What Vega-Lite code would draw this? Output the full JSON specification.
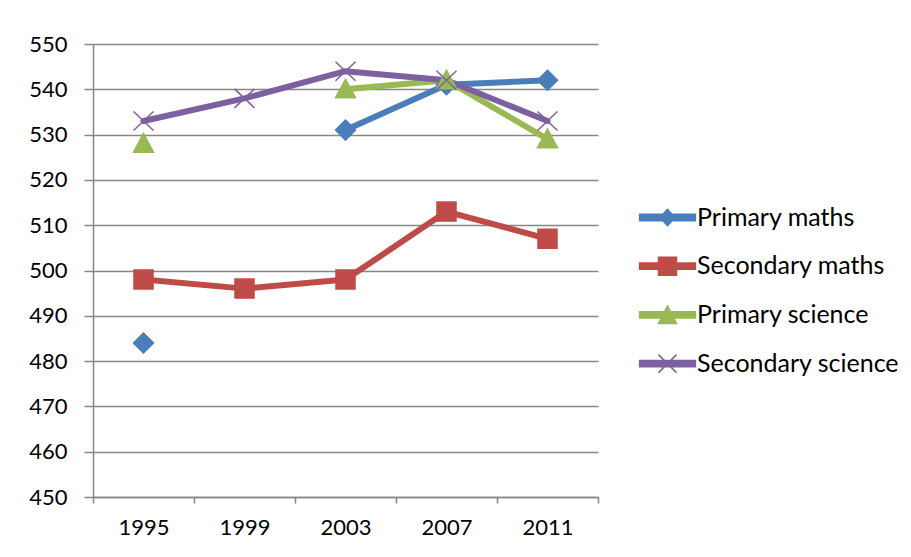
{
  "$schema": "https://vega.github.io/schema/vega-lite/v6.json",
  "width": 505,
  "height": 453,
  "padding": {"left": 93, "top": 44, "right": 313, "bottom": 60},
  "autosize": {"type": "none"},
  "background": "white",
  "config": {
    "view": {"stroke": null},
    "font": "Lato",
    "axis": {
      "labelFont": "Lato",
      "labelFontSize": 22,
      "labelColor": "#000000",
      "domainColor": "#868686",
      "domainWidth": 1.5,
      "tickColor": "#868686",
      "tickWidth": 1.5,
      "gridColor": "#868686",
      "gridWidth": 1.5,
      "title": null
    },
    "legend": {
      "labelFont": "Lato",
      "labelFontSize": 25,
      "labelColor": "#000000",
      "orient": "none",
      "legendX": 562,
      "legendY": 161,
      "padding": 0,
      "symbolSize": 324,
      "symbolStrokeWidth": 1.5,
      "symbolOpacity": 1,
      "labelOffset": 17,
      "rowPadding": 22.7,
      "labelLimit": 300
    }
  },
  "data": {
    "values": [
      {"series": "Primary maths", "year": "1995", "score": 484},
      {"series": "Primary maths", "year": "1999", "score": null},
      {"series": "Primary maths", "year": "2003", "score": 531},
      {"series": "Primary maths", "year": "2007", "score": 541},
      {"series": "Primary maths", "year": "2011", "score": 542},
      {"series": "Secondary maths", "year": "1995", "score": 498},
      {"series": "Secondary maths", "year": "1999", "score": 496},
      {"series": "Secondary maths", "year": "2003", "score": 498},
      {"series": "Secondary maths", "year": "2007", "score": 513},
      {"series": "Secondary maths", "year": "2011", "score": 507},
      {"series": "Primary science", "year": "1995", "score": 528},
      {"series": "Primary science", "year": "1999", "score": null},
      {"series": "Primary science", "year": "2003", "score": 540},
      {"series": "Primary science", "year": "2007", "score": 542},
      {"series": "Primary science", "year": "2011", "score": 529},
      {"series": "Secondary science", "year": "1995", "score": 533},
      {"series": "Secondary science", "year": "1999", "score": 538},
      {"series": "Secondary science", "year": "2003", "score": 544},
      {"series": "Secondary science", "year": "2007", "score": 542},
      {"series": "Secondary science", "year": "2011", "score": 533}
    ]
  },
  "encoding": {
    "x": {
      "field": "year",
      "type": "ordinal",
      "bandPosition": 0.5,
      "scale": {"type": "band", "paddingInner": 0, "paddingOuter": 0},
      "axis": {
        "labelAngle": 0,
        "tickBand": "extent",
        "tickSize": 6,
        "labelPadding": 14,
        "grid": false
      }
    },
    "y": {
      "field": "score",
      "type": "quantitative",
      "scale": {"domain": [450, 550], "nice": false, "zero": false},
      "axis": {
        "values": [450, 460, 470, 480, 490, 500, 510, 520, 530, 540, 550],
        "grid": true,
        "tickSize": 9,
        "labelPadding": 17
      }
    }
  },
  "resolve": {
    "scale": {"shape": "independent", "color": "independent", "stroke": "independent"},
    "legend": {"shape": "independent", "color": "independent", "stroke": "independent"}
  },
  "layer": [
    {
      "mark": {
        "type": "line",
        "strokeWidth": 6,
        "strokeCap": "round",
        "strokeJoin": "round",
        "invalid": "break-paths-show-domains"
      },
      "encoding": {
        "color": {
          "field": "series",
          "type": "nominal",
          "legend": null,
          "scale": {
            "domain": ["Primary maths", "Secondary maths", "Primary science", "Secondary science"],
            "range": ["#4A7EBB", "#BE4B48", "#98B954", "#7D60A0"]
          }
        }
      }
    },
    {
      "mark": {"type": "point", "filled": true, "opacity": 1, "size": 400, "strokeWidth": 1.5},
      "encoding": {
        "color": {
          "field": "series",
          "type": "nominal",
          "legend": null,
          "scale": {
            "domain": ["Primary maths", "Secondary maths", "Primary science", "Secondary science"],
            "range": ["#4A7EBB", "#BE4B48", "#98B954", "#7D60A0"]
          }
        },
        "stroke": {
          "field": "series",
          "type": "nominal",
          "legend": null,
          "scale": {
            "domain": ["Primary maths", "Secondary maths", "Primary science", "Secondary science"],
            "range": ["#4A7EBB", "#BE4B48", "#98B954", "#7D60A0"]
          }
        },
        "shape": {
          "field": "series",
          "type": "nominal",
          "legend": null,
          "scale": {
            "domain": ["Primary maths", "Secondary maths", "Primary science", "Secondary science"],
            "range": [
              "M0,-1L1,0L0,1L-1,0Z",
              "M-0.95,-0.95H0.95V0.95H-0.95Z",
              "M0,-1L1,0.85L-1,0.85Z",
              "M-1,-0.95L1,0.95M-1,0.95L1,-0.95"
            ]
          }
        }
      }
    },
    {
      "transform": [{"filter": "false"}],
      "mark": {"type": "point", "filled": true, "opacity": 1, "strokeWidth": 1.5},
      "encoding": {
        "color": {
          "field": "series",
          "type": "nominal",
          "title": null,
          "scale": {
            "domain": ["Primary maths", "Secondary maths", "Primary science", "Secondary science"],
            "range": ["#4A7EBB", "#BE4B48", "#98B954", "#7D60A0"]
          }
        },
        "stroke": {
          "field": "series",
          "type": "nominal",
          "title": null,
          "scale": {
            "domain": ["Primary maths", "Secondary maths", "Primary science", "Secondary science"],
            "range": ["#4A7EBB", "#BE4B48", "#98B954", "#7D60A0"]
          }
        },
        "shape": {
          "field": "series",
          "type": "nominal",
          "title": null,
          "scale": {
            "domain": ["Primary maths", "Secondary maths", "Primary science", "Secondary science"],
            "range": [
              "M-3.1,-0.35H3.1V0.35H-3.1Z M0,-0.9L0.85,0L0,0.9L-0.85,0Z",
              "M-3.1,-0.35H3.1V0.35H-3.1Z M-1,-1H1V1H-1Z",
              "M-3.1,-0.35H3.1V0.35H-3.1Z M0,-1L1,0.95L-1,0.95Z",
              "M-3.1,-0.35H3.1V0.35H-3.1Z M-1,-1L1,1M-1,1L1,-1"
            ]
          }
        }
      }
    }
  ]
}
